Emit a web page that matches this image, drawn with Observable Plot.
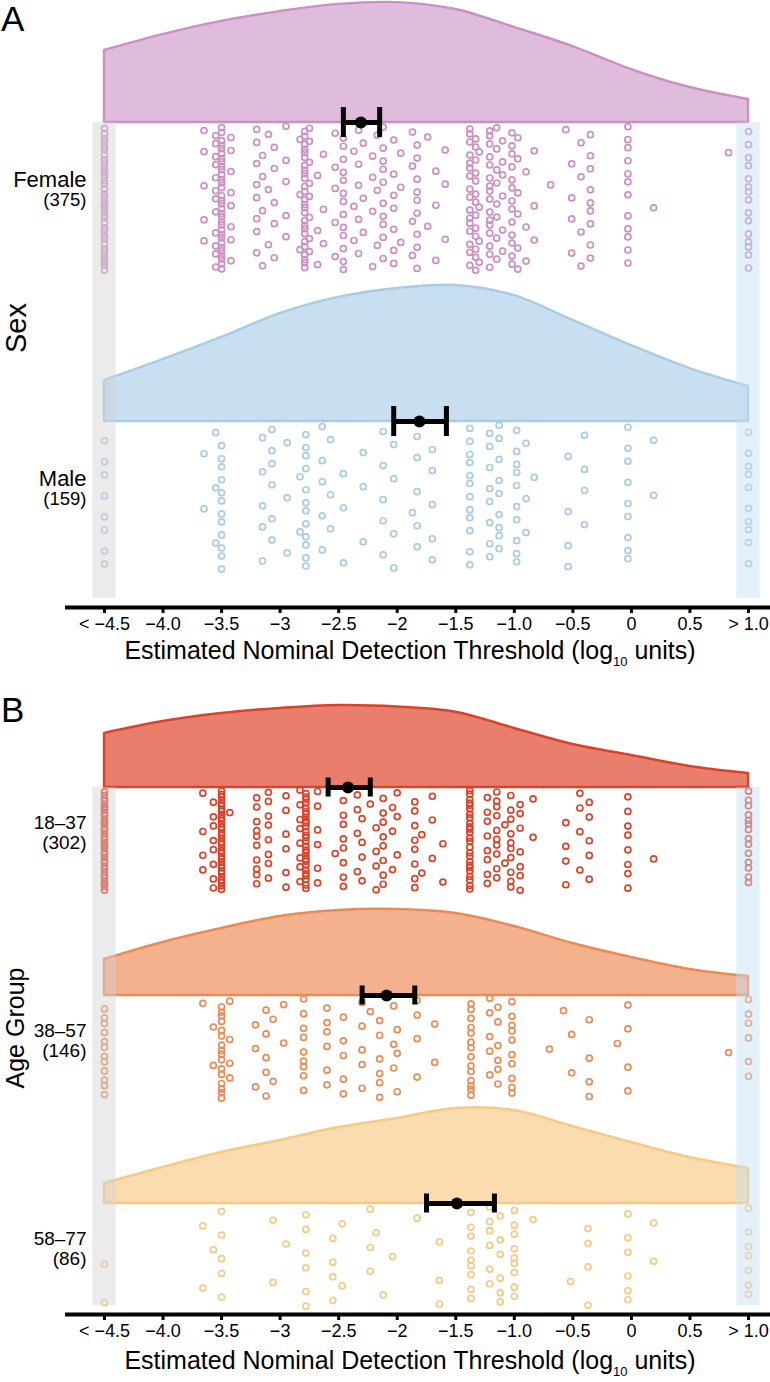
<!DOCTYPE html>
<html>
<head>
<meta charset="utf-8">
<script src="https://cdn.jsdelivr.net/npm/d3@7"></script>
<script src="https://cdn.jsdelivr.net/npm/@observablehq/plot@0.6"></script>
<style>
  body { margin: 0; background: #fff; font-family: "Liberation Sans", Arial, Helvetica, sans-serif; color: #000; }
  #wrap { position: relative; width: 770px; height: 1382px; overflow: hidden; background: #fff; }
  .panel { position: absolute; left: 0; }
  .letter { position: absolute; left: 1px; font-size: 35px; line-height: 35px; }
  .ytitle { position: absolute; white-space: nowrap; line-height: 1.1; padding: 0 2px; transform: translate(-50%, -50%) rotate(-90deg); }
  .xtitle { position: absolute; white-space: nowrap; font-size: 25px; line-height: 1; transform: translate(-50%, -50%); }
  .xtitle .sub { font-size: 13px; vertical-align: -7px; }
</style>
</head>
<body>
<div id="wrap">
  <div class="panel" id="panelA" style="top:0"></div>
  <div class="panel" id="panelB" style="top:690px"></div>
  <div class="letter" style="top:1px">A</div>
  <div class="letter" style="top:692px">B</div>
  <div class="ytitle" style="left:17px; top:328px; font-size:29px">Sex</div>
  <div class="ytitle" style="left:16px; top:1028px; font-size:25px">Age Group</div>
  <div class="xtitle" style="left:410px; top:653px">Estimated Nominal Detection Threshold (log<span class="sub">10</span> units)</div>
  <div class="xtitle" style="left:410px; top:1363px">Estimated Nominal Detection Threshold (log<span class="sub">10</span> units)</div>
</div>
<script>
// ---------- axis ----------
const X_TICKS = [-4.5, -4, -3.5, -3, -2.5, -2, -1.5, -1, -0.5, 0, 0.5, 1];
const X_TICK_LABELS = ["< \u22124.5", "\u22124.0", "\u22123.5", "\u22123", "\u22122.5", "\u22122", "\u22121.5", "\u22121.0", "\u22120.5", "0", "0.5", "> 1.0"];
const LOW = -4.5, HIGH = 1.0;   // censoring limits

// ---------- density curves (relative height, in row units) ----------
const DENS_X = [-4.5, -4, -3.5, -3, -2.5, -2, -1.5, -1, -0.5, 0, 0.5, 1];
const densFemale = [0.241, 0.294, 0.338, 0.371, 0.395, 0.401, 0.378, 0.318, 0.254, 0.177, 0.117, 0.077];
const densMale   = [0.137, 0.207, 0.281, 0.361, 0.415, 0.445, 0.455, 0.421, 0.338, 0.254, 0.177, 0.117];
const dens1837   = [0.260, 0.317, 0.356, 0.380, 0.394, 0.387, 0.362, 0.284, 0.207, 0.154, 0.101, 0.067];
const dens3857   = [0.173, 0.255, 0.322, 0.380, 0.409, 0.413, 0.394, 0.332, 0.250, 0.183, 0.125, 0.091];
const dens5877   = [0.096, 0.173, 0.245, 0.303, 0.365, 0.409, 0.457, 0.447, 0.370, 0.293, 0.221, 0.168];

// ---------- individual thresholds: values and how many participants have each ----------
const femaleX = [-4.5,-3.65,-3.55,-3.5,-3.42,-3.2,-3.15,-3.1,-3.05,-2.95,-2.83,-2.79,-2.75,-2.68,-2.63,-2.53,-2.46,-2.37,-2.33,-2.29,-2.21,-2.17,-2.12,-2.03,-1.97,-1.87,-1.83,-1.74,-1.67,-1.59,-1.38,-1.33,-1.3,-1.21,-1.15,-1.1,-1.02,-0.97,-0.9,-0.83,-0.69,-0.56,-0.51,-0.43,-0.35,-0.03,0.19,0.83,1.0];
const femaleN = [37,5,12,32,8,8,4,3,5,5,3,26,8,3,3,5,13,3,5,3,4,3,10,7,3,4,9,2,3,3,16,13,4,16,8,6,13,6,3,3,1,1,4,4,9,12,1,1,15];
const maleX = [-4.5,-3.65,-3.55,-3.5,-3.15,-3.07,-2.94,-2.83,-2.78,-2.64,-2.57,-2.46,-2.29,-2.12,-2.03,-1.87,-1.83,-1.7,-1.38,-1.21,-1.13,-0.98,-0.9,-0.83,-0.54,-0.4,-0.03,0.19,1.0];
const maleN = [8,2,3,12,5,6,3,2,12,5,3,3,3,5,4,1,5,5,12,8,9,10,3,1,4,4,9,2,10];
const age1837X = [-4.5,-3.66,-3.57,-3.5,-3.43,-3.2,-3.1,-2.95,-2.83,-2.78,-2.68,-2.53,-2.46,-2.34,-2.3,-2.23,-2.18,-2.12,-2.04,-2.0,-1.85,-1.79,-1.7,-1.61,-1.38,-1.23,-1.15,-1.08,-1.03,-0.95,-0.84,-0.56,-0.44,-0.36,-0.03,0.19,1.0];
const age1837N = [38,4,8,34,1,10,8,6,8,28,6,1,8,4,4,1,4,8,3,3,8,2,3,2,25,8,10,2,10,7,2,4,4,5,8,1,14];
const age3857X = [-4.5,-3.66,-3.57,-3.5,-3.43,-3.21,-3.12,-3.06,-2.97,-2.8,-2.6,-2.46,-2.3,-2.23,-2.15,-2.03,-2.0,-1.83,-1.68,-1.37,-1.21,-1.14,-1.02,-0.7,-0.58,-0.51,-0.36,-0.12,-0.03,0.83,1.0];
const age3857N = [12,1,2,16,4,3,5,2,2,9,6,5,5,1,6,3,3,4,2,14,5,6,10,1,1,2,4,1,4,1,6];
const age5877X = [-4.5,-3.66,-3.57,-3.5,-3.06,-2.95,-2.78,-2.55,-2.47,-2.23,-2.18,-2.12,-2.04,-1.83,-1.64,-1.37,-1.21,-1.12,-1.0,-0.84,-0.52,-0.37,-0.03,0.19,1.0];
const age5877N = [2,2,1,5,2,1,6,4,2,3,1,1,1,1,3,9,6,6,9,1,1,4,6,2,7];

// ---------- group summaries (mean and 95% CI) ----------
const sexGroups = ["Female", "Male"];
const sexCounts = [375, 159];
const sexMean = [-2.31, -1.81];
const sexLo   = [-2.46, -2.03];
const sexHi   = [-2.15, -1.58];
const ageGroups = ["18\u201337", "38\u201357", "58\u201377"];
const ageCounts = [302, 146, 86];
const ageMean = [-2.42, -2.09, -1.49];
const ageLo   = [-2.59, -2.30, -1.75];
const ageHi   = [-2.23, -1.85, -1.17];

// ---------- colours ----------
const sexFill   = ["#e0bcdc", "#c7dff0"];
const sexStroke = ["#cb8fc5", "#a8cbe6"];
const ageFill   = ["#ea7e6c", "#f4b18e", "#fbdcae"];
const ageStroke = ["#d9432b", "#ec8a56", "#f8c985"];

// ---------- drawing ----------
const tickLabel = new Map(X_TICKS.map((t, i) => [t, X_TICK_LABELS[i]]));
const BAND_HALF = 0.1;
const JIT_LO = 0.012, JIT_HI = 0.495;            // vertical jitter band below each cloud
const jitter = k => (0.31 + k * 0.6180339887) % 1; // deterministic jitter (layout only)

function makePanel(c) {
  const yTop = -c.basePx / c.spacing;
  const yAxis = (c.axisPx - c.basePx) / c.spacing;
  const cap = c.capPx / c.spacing;
  const marks = [];
  c.groups.forEach((g, i) => {
    const rows = DENS_X.map((x, j) => ({x, y1: i, y2: i - c.dens[i][j]}));
    marks.push(Plot.areaY(rows, {x: "x", y1: "y1", y2: "y2", curve: "catmull-rom",
      fill: c.fills[i], stroke: c.strokes[i], strokeWidth: c.densStroke, strokeLinejoin: "round"}));
  });
  c.groups.forEach((g, i) => {
    const pts = [];
    let k = 0;
    c.ptsX[i].forEach((x, j) => {
      for (let m = 0; m < c.ptsN[i][j]; m++) {
        pts.push({x, y: i + JIT_LO + (JIT_HI - JIT_LO) * jitter(k + 7 * i)});
        k++;
      }
    });
    marks.push(Plot.dot(pts, {x: "x", y: "y", r: 3.0, stroke: c.strokes[i], strokeWidth: 1.7, fill: "none"}));
  });
  // censoring bands
  marks.push(Plot.rect([LOW], {x1: d => d - BAND_HALF, x2: d => d + BAND_HALF, y1: () => 0, y2: () => c.bandEnd,
    fill: "#d2d2d2", fillOpacity: 0.45}));
  marks.push(Plot.rect([HIGH], {x1: d => d - BAND_HALF, x2: d => d + BAND_HALF, y1: () => 0, y2: () => c.bandEnd,
    fill: "#c4e1f4", fillOpacity: 0.45}));
  // mean and CI
  const eb = c.groups.map((g, i) => ({i, m: c.mean[i], lo: c.lo[i], hi: c.hi[i]}));
  marks.push(Plot.ruleY(eb, {y: "i", x1: "lo", x2: "hi", stroke: "black", strokeWidth: 5}));
  marks.push(Plot.ruleX(eb, {x: "lo", y1: d => d.i - cap, y2: d => d.i + cap, stroke: "black", strokeWidth: 5}));
  marks.push(Plot.ruleX(eb, {x: "hi", y1: d => d.i - cap, y2: d => d.i + cap, stroke: "black", strokeWidth: 5}));
  marks.push(Plot.dot(eb, {x: "m", y: "i", r: 6, fill: "black"}));
  // group labels
  marks.push(Plot.text(c.groups, {x: () => LOW, y: (d, i) => i, text: d => d, dx: -18, dy: c.labelDy,
    textAnchor: "end", lineAnchor: "middle", fontSize: c.labelSize, fill: "black"}));
  marks.push(Plot.text(c.counts, {x: () => LOW, y: (d, i) => i, text: d => `(${d})`, dx: -18, dy: c.countDy,
    textAnchor: "end", lineAnchor: "middle", fontSize: c.countSize, fill: "black"}));
  // axis line + ticks
  marks.push(Plot.ruleY([yAxis], {x1: () => LOW - 0.333, x2: () => HIGH + 0.19, stroke: "black", strokeWidth: 4}));
  marks.push(Plot.axisX({ticks: X_TICKS, tickFormat: d => tickLabel.get(d), tickSize: 6, strokeWidth: 3,
    fontSize: 18, tickPadding: 4, label: null}));
  return Plot.plot({
    width: 770, height: c.height,
    marginLeft: 104, marginRight: 22, marginTop: 0, marginBottom: c.height - c.axisPx,
    x: {domain: [LOW, HIGH]},
    y: {domain: [yTop, yAxis], reverse: true, axis: null},
    style: {fontFamily: '"Liberation Sans", Arial, Helvetica, sans-serif', color: "black", background: "white", overflow: "visible"},
    marks
  });
}

document.getElementById("panelA").append(makePanel({
  groups: sexGroups, counts: sexCounts, dens: [densFemale, densMale],
  ptsX: [femaleX, maleX], ptsN: [femaleN, maleN],
  mean: sexMean, lo: sexLo, hi: sexHi, fills: sexFill, strokes: sexStroke,
  basePx: 122, spacing: 299, axisPx: 607, height: 690, bandEnd: 1.592, capPx: 15,
  labelDy: 57, countDy: 78, labelSize: 22, countSize: 18.5, densStroke: 2.4
}));
document.getElementById("panelB").append(makePanel({
  groups: ageGroups, counts: ageCounts, dens: [dens1837, dens3857, dens5877],
  ptsX: [age1837X, age3857X, age5877X], ptsN: [age1837N, age3857N, age5877N],
  mean: ageMean, lo: ageLo, hi: ageHi, fills: ageFill, strokes: ageStroke,
  basePx: 97, spacing: 208, axisPx: 624, height: 692, bandEnd: 2.49, capPx: 9.5,
  labelDy: 35, countDy: 55, labelSize: 19, countSize: 19, densStroke: 2.5
}));
</script>
</body>
</html>
